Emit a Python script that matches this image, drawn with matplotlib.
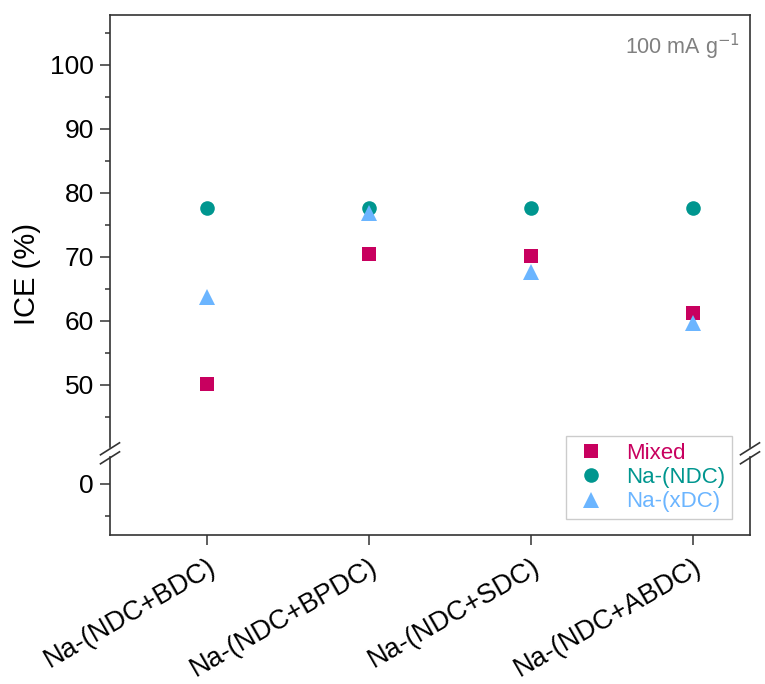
import matplotlib.pyplot as plt
from matplotlib.lines import Line2D

plt.rcParams['font.family'] = ['Liberation Sans', 'DejaVu Sans']

samples = ['Na-(NDC+BDC)', 'Na-(NDC+BPDC)', 'Na-(NDC+SDC)', 'Na-(NDC+ABDC)']
mixed = [50.1, 70.4, 70.1, 61.3]
na_ndc = [77.6, 77.6, 77.6, 77.6]
na_xdc = [63.8, 76.9, 67.6, 59.6]

c_mixed = '#c8005f'
c_ndc = '#00968f'
c_xdc = '#6bb5ff'
spine_c = '#333333'

W, H = 765, 684
fig = plt.figure(figsize=(W / 100, H / 100), dpi=100)


def px(x0, y0, x1, y1):
    # pixel box -> figure fraction rect
    return [x0 / W, 1 - y1 / H, (x1 - x0) / W, (y1 - y0) / H]


ax_top = fig.add_axes(px(110, 15, 750, 447))
ax_bot = fig.add_axes(px(110, 457, 750, 535))

x = range(len(samples))
for ax in (ax_top, ax_bot):
    ax.plot(x, mixed, 's', color=c_mixed, ms=9.5, mew=0, label='Mixed')
    ax.plot(x, na_ndc, 'o', color=c_ndc, ms=10.5, mew=0, label='Na-(NDC)')
    ax.plot(x, na_xdc, '^', color=c_xdc, ms=12, mew=0, label='Na-(xDC)')
    ax.set_xlim(-0.6, 3.35)
    for s in ax.spines.values():
        s.set_color(spine_c)
        s.set_linewidth(1.2)
    ax.tick_params(axis='y', which='major', direction='out', length=7.5,
                   width=1.1, color=spine_c, labelsize=19, pad=4)
    ax.tick_params(axis='y', which='minor', direction='out', length=3.8,
                   width=1.1, color=spine_c)

ax_top.set_ylim(40.3, 107.8)
ax_top.set_yticks([50, 60, 70, 80, 90, 100])
ax_top.set_yticks([45, 55, 65, 75, 85, 95, 105], minor=True)
ax_top.spines['bottom'].set_visible(False)
ax_top.set_xticks([])

ax_bot.set_ylim(-8, 4.2)
ax_bot.set_yticks([0])
ax_bot.set_yticks([-5], minor=True)
ax_bot.spines['top'].set_visible(False)
ax_bot.set_xticks(list(x))
ax_bot.set_xticklabels(samples, rotation=30, ha='right', va='top',
                       rotation_mode='anchor')
ax_bot.tick_params(axis='x', direction='out', length=7.5, width=1.1,
                   color=spine_c, labelsize=19.5, pad=6)

fig.text(27 / W, 1 - 274 / H, 'ICE (%)', rotation=90, fontsize=21,
         ha='center', va='center')
ax_top.text(0.985, 0.925, r'100 mA g$^{-1}$', transform=ax_top.transAxes,
            ha='right', va='center', fontsize=15.5, color='#808080')

# axis break marks
for xc in (110, 750):
    for yc in (448.8, 457.8):
        fig.add_artist(Line2D([(xc - 9.5) / W, (xc + 9.5) / W],
                              [1 - (yc + 6) / H, 1 - (yc - 6) / H],
                              color=spine_c, lw=1.2))

handles, labels = ax_top.get_legend_handles_labels()
leg = fig.legend(handles, labels, loc='lower right',
                 bbox_to_anchor=(732 / W, 1 - 519 / H), borderaxespad=0,
                 fontsize=16, frameon=True, fancybox=False,
                 edgecolor='#c0c0c0', handletextpad=0.8, borderpad=0.3,
                 labelspacing=0.15, handlelength=1.6)
leg.get_frame().set_linewidth(1.0)
for t, c in zip(leg.get_texts(), (c_mixed, c_ndc, c_xdc)):
    t.set_color(c)

fig.savefig('out.png', dpi=100)
